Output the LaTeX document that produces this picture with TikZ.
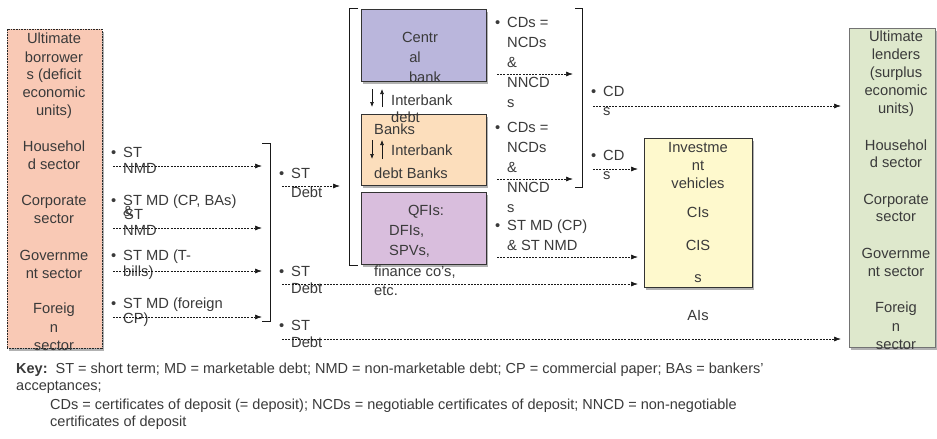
\documentclass[tikz,border=0pt]{standalone}
\usepackage{fontspec}
\setmainfont{Liberation Sans}
\usetikzlibrary{arrows.meta,shadows}
\definecolor{tg}{HTML}{3A3A3A}
\definecolor{cborrow}{HTML}{F9C9B5}
\definecolor{ccentral}{HTML}{BAB6DC}
\definecolor{cbanks}{HTML}{FCDEBC}
\definecolor{cqfi}{HTML}{D9BEDD}
\definecolor{cinv}{HTML}{FEF9CD}
\definecolor{clend}{HTML}{DEE8CC}
\newcommand\bul{\makebox[12pt][l]{•}}
\begin{document}
\begin{tikzpicture}[x=1pt,y=-1pt,
  t/.style={font=\fontsize{14.7}{18}\selectfont, text=tg, inner sep=0pt, text height=10.6pt, text depth=0pt},
  tl/.style={t, anchor=west},
  kt/.style={font=\fontsize{14.5}{17}\selectfont, text=tg, inner sep=0pt, text height=10.4pt, text depth=0pt, anchor=west},
  box/.style={draw=black!80, line width=0.8pt, inner sep=0pt,
    drop shadow={shadow xshift=2pt, shadow yshift=-3pt, opacity=0.3, fill=black}},
  flow/.style={draw=black!90, line width=0.7pt, dash pattern=on 2pt off 1.2pt,
    -{Latex[length=7pt,width=5pt]}},
  ibar/.style={draw=black!90, line width=0.7pt, -{Latex[length=5pt,width=4pt]}},
  brk/.style={draw=black!90, line width=0.8pt}]
\useasboundingbox (0,0) rectangle (937,439);
\fill[white] (0,0) rectangle (937,439);

% ---------- boxes ----------
\node[box, fill=cborrow, draw=black!85, dash pattern=on 1pt off 0.6pt,
  minimum width=95pt, minimum height=319pt] (borrow) at (54.5,188.5) {};
\node[box, fill=ccentral, minimum width=125pt, minimum height=72pt] (central) at (423.5,45) {};
\node[box, fill=cbanks, minimum width=125pt, minimum height=71pt] (banks) at (423.5,149.5) {};
\node[box, fill=cqfi, minimum width=125pt, minimum height=72pt] (qfi) at (423.5,228) {};
\node[box, fill=cinv, minimum width=108pt, minimum height=149pt] (inv) at (698,212.5) {};
\node[box, fill=clend, draw=black!55, minimum width=86pt, minimum height=319pt] (lend) at (892,187.5) {};

% ---------- brackets ----------
\draw[brk] (262,143) -- (270,143) -- (270,321) -- (262,321);
\draw[brk] (358,8) -- (349,8) -- (349,265) -- (358,265);
\draw[brk] (575,8) -- (582,8) -- (582,187) -- (575,187);

% ---------- borrower text ----------
\foreach \yy/\s [count=\i] in {38/Ultimate,57/borrower,74/{s (deficit},92/economic,110/{units)},
  146/Househol,164/{d sector},200/Corporate,218/sector,255/Governme,273/{nt sector},
  308/Foreig,327/n,345/sector}
  \node[t] (ub\i) at (54,\yy) {\s};

% ---------- lender text ----------
\foreach \yy/\s [count=\i] in {36/Ultimate,54/lenders,72/{(surplus},90/economic,108/{units)},
  145/Househol,162/{d sector},199/Corporate,216/sector,253/Governme,271/{nt sector},
  307/Foreig,326/n,344/sector}
  \node[t] (ul\i) at (896,\yy) {\s};

% ---------- left labels ----------
\node[tl] (l1) at (111,152) {\bul ST};
\node[tl] (l2) at (123,168) {NMD};
\node[tl] (l3) at (111,200) {\bul ST MD (CP, BAs)};
\node[tl] (l4) at (123,211) {\&};
\node[tl] (l5) at (124,214) {ST};
\node[tl] (l6) at (123,230) {NMD};
\node[tl] (l7) at (111,255) {\bul ST MD (T-};
\node[tl] (l8) at (123,271) {bills)};
\node[tl] (l9) at (111,303) {\bul ST MD (foreign};
\node[tl] (l10) at (123,318) {CP)};

% ---------- middle labels ----------
\node[tl] (m1) at (279,173) {\bul ST};
\node[tl] (m2) at (291,192) {Debt};
\node[tl] (m3) at (279,271) {\bul ST};
\node[tl] (m4) at (291,288) {Debt};
\node[tl] (m5) at (279,325) {\bul ST};
\node[tl] (m6) at (291,342) {Debt};

% ---------- central bank / banks / QFIs ----------
\node[t] (cb1) at (420,37) {Centr};
\node[t] (cb2) at (415,57) {al};
\node[t] (cb3) at (425,77) {bank};
\coordinate (ia1) at (372,89); \coordinate (ia2) at (372,107);
\coordinate (ia3) at (382,107); \coordinate (ia4) at (382,89);
\draw[ibar] (ia1) -- (ia2);
\draw[ibar] (ia3) -- (ia4);
\node[tl] (ib2) at (391,100) {Interbank};
\node[tl] (ib3) at (391,117) {debt};
\node[tl] (bk1) at (374,129) {Banks};
\coordinate (ja1) at (372,140); \coordinate (ja2) at (372,159);
\coordinate (ja3) at (382,159); \coordinate (ja4) at (382,140);
\draw[ibar] (ja1) -- (ja2);
\draw[ibar] (ja3) -- (ja4);
\node[tl] (bk3) at (391,150) {Interbank};
\node[tl] (bk4) at (374,173) {debt Banks};
\node[t] (q1) at (426,210) {QFIs:};
\node[tl] (q2) at (389,230) {DFIs,};
\node[tl] (q3) at (389,250) {SPVs,};
\node[tl] (q4) at (374,271) {finance co's,};
\node[tl] (q5) at (374,290) {etc.};

% ---------- right labels ----------
\node[tl] (r1) at (495,22) {\bul CDs =};
\node[tl] (r2) at (507,42) {NCDs};
\node[tl] (r3) at (507,62) {\&};
\node[tl] (r4) at (507,82) {NNCD};
\node[tl] (r5) at (507,102) {s};
\node[tl] (r6) at (495,127) {\bul CDs =};
\node[tl] (r7) at (507,147) {NCDs};
\node[tl] (r8) at (507,167) {\&};
\node[tl] (r9) at (507,187) {NNCD};
\node[tl] (r10) at (507,207) {s};
\node[tl] (r11) at (495,225) {\bul ST MD (CP)};
\node[tl] (r12) at (507,245) {\& ST NMD};
\node[tl] (c1) at (591,91) {\bul CD};
\node[tl] (c2) at (603,110) {s};
\node[tl] (c3) at (591,155) {\bul CD};
\node[tl] (c4) at (603,174) {s};

% ---------- investment vehicles ----------
\foreach \yy/\s [count=\i] in {147/Investme,165/nt,183/vehicles,212/CIs,245/CIS,277/s}
  \node[t] (iv\i) at (698,\yy) {\s};
\node[t] (ais) at (698,315) {AIs};

% ---------- connectors ----------
\coordinate (f1a) at (113,166); \coordinate (f1b) at (262,166);
\coordinate (f2a) at (113,228); \coordinate (f2b) at (262,228);
\coordinate (f3a) at (113,271); \coordinate (f3b) at (262,271);
\coordinate (f4a) at (113,317); \coordinate (f4b) at (262,317);
\coordinate (f5a) at (282,186); \coordinate (f5b) at (340,186);
\coordinate (f6a) at (282,284); \coordinate (f6b) at (638,284);
\coordinate (f7a) at (282,339); \coordinate (f7b) at (841,339);
\coordinate (f8a) at (497,74);  \coordinate (f8b) at (573,74);
\coordinate (f9a) at (497,179); \coordinate (f9b) at (573,179);
\coordinate (f10a) at (497,257); \coordinate (f10b) at (638,257);
\coordinate (f11a) at (593,106); \coordinate (f11b) at (841,106);
\coordinate (f12a) at (593,169); \coordinate (f12b) at (638,169);
\foreach \k in {1,...,12} \draw[flow] (f\k a) -- (f\k b);

% ---------- key ----------
\node[kt] (k1) at (16,368) {\textbf{Key:}\ \ ST = short term; MD = marketable debt; NMD = non-marketable debt; CP = commercial paper; BAs = bankers’};
\node[kt] (k2) at (16,385) {acceptances;};
\node[kt] (k3) at (50,404) {CDs = certificates of deposit (= deposit); NCDs = negotiable certificates of deposit; NNCD = non-negotiable};
\node[kt] (k4) at (50,421) {certificates of deposit};
\end{tikzpicture}
\end{document}
